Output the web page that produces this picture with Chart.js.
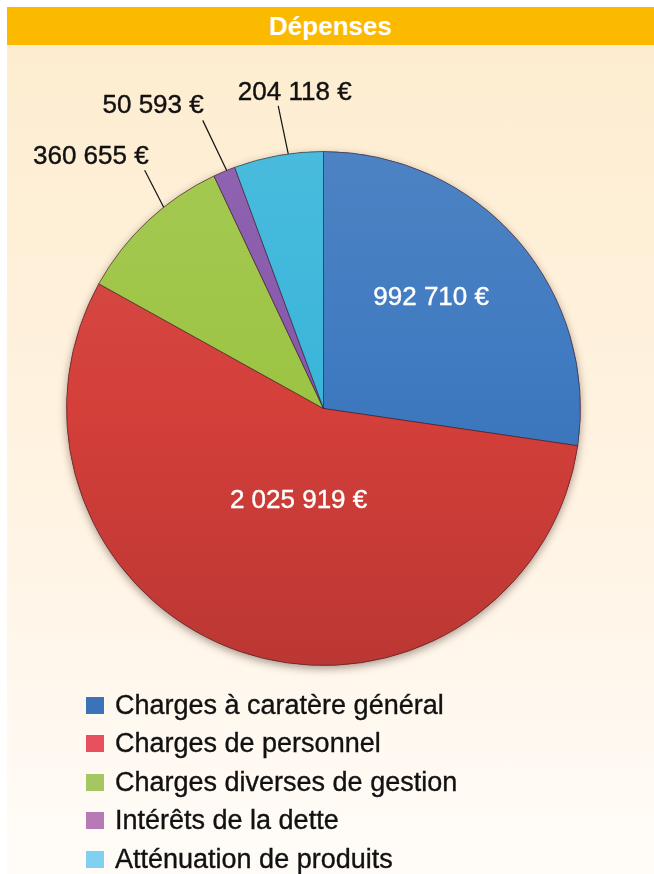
<!DOCTYPE html>
<html>
<head>
<meta charset="utf-8">
<script src="https://cdn.jsdelivr.net/npm/chart.js@4"></script>
<style>
  body { margin: 0; background: #fff; font-family: "Liberation Sans", Arial, sans-serif; }
  #wrap { position: absolute; left: 7px; top: 7px; width: 647px; height: 867px;
          background: linear-gradient(#fdecce, #fff3e2 55%, #fffcf8); }
  #title { height: 38px; background: #fbb900; color: #fff; font-weight: bold;
           font-size: 26px; text-align: center; line-height: 38px; }
  #box { position: absolute; left: 0; top: 0; width: 654px; height: 874px; }
  #legend { position: absolute; left: 86px; top: 686px; }
  .item { height: 38.5px; display: flex; align-items: center; font-size: 27px; color: #111;
          -webkit-text-stroke: 0.35px #111; }
  .sw { width: 18px; height: 17px; margin-right: 11px; }
</style>
</head>
<body>
<div id="wrap"><div id="title">Dépenses</div></div>
<div id="box"><canvas id="pie"></canvas></div>
<div id="legend"></div>
<script>
const categories = ['Charges à caratère général', 'Charges de personnel', 'Charges diverses de gestion', 'Intérêts de la dette', 'Atténuation de produits'];
const amounts = [992710, 2025919, 360655, 50593, 204118];
const sliceColors = ['#3d78bf', '#d43f3a', '#9cc443', '#8656aa', '#39b5da'];
const legendColors = ['#3c72b8', '#e9505f', '#a4c761', '#b87ab6', '#80d0f2'];

// where each value label sits: t = position across the slice, r = fraction of radius
const labelStyle = [
  { inside: true, t: 0.45, r: 0.6 },
  { inside: true, t: 0.482, r: 0.373 },
  { t: 0.63, angle: 332.8, len: 41.6, align: 'right', dx: 4, dy: -6 },
  { t: 0.62, angle: 334.4, len: 55.5, align: 'right', dx: 1, dy: -7 },
  { t: 0.61, angle: 348.2, len: 49, align: 'center', dx: 16.5, dy: -6 }
];

const euro = n => n.toString().replace(/\B(?=(\d{3})+(?!\d))/g, ' ') + ' €';

function shade(hex, amt) {
  const n = parseInt(hex.slice(1), 16);
  const f = c => Math.max(0, Math.min(255, Math.round(amt > 0 ? c + (255 - c) * amt : c * (1 + amt))));
  return `rgb(${f(n >> 16)},${f((n >> 8) & 255)},${f(n & 255)})`;
}

const pieShadow = {
  id: 'pieShadow',
  beforeDatasetsDraw(chart) {
    const arc = chart.getDatasetMeta(0).data[0];
    if (!arc) return;
    const ctx = chart.ctx;
    ctx.save();
    ctx.shadowColor = 'rgba(60,30,20,0.45)';
    ctx.shadowBlur = 8;
    ctx.shadowOffsetY = 3;
    ctx.fillStyle = '#b5362f';
    ctx.beginPath();
    ctx.arc(arc.x, arc.y, arc.outerRadius, 0, Math.PI * 2);
    ctx.fill();
    ctx.restore();
  }
};

const valueLabels = {
  id: 'valueLabels',
  afterDatasetsDraw(chart) {
    const ctx = chart.ctx;
    ctx.save();
    ctx.font = '26px "Liberation Sans", Arial, sans-serif';
    ctx.lineWidth = 0.4;
    chart.getDatasetMeta(0).data.forEach((arc, i) => {
      const { x, y, startAngle, endAngle, outerRadius } = arc.getProps(['x', 'y', 'startAngle', 'endAngle', 'outerRadius'], true);
      const s = labelStyle[i];
      const text = euro(amounts[i]);
      const a = startAngle + (endAngle - startAngle) * s.t;
      if (s.inside) {
        const tx = x + Math.cos(a) * outerRadius * s.r, ty = y + Math.sin(a) * outerRadius * s.r;
        ctx.fillStyle = ctx.strokeStyle = '#fff';
        ctx.textAlign = 'center';
        ctx.textBaseline = 'middle';
        ctx.fillText(text, tx, ty);
        ctx.strokeText(text, tx, ty);
        return;
      }
      const x0 = x + Math.cos(a) * outerRadius, y0 = y + Math.sin(a) * outerRadius;
      const la = (s.angle - 90) * Math.PI / 180;
      const x1 = x0 + Math.cos(la) * s.len, y1 = y0 + Math.sin(la) * s.len;
      ctx.strokeStyle = ctx.fillStyle = '#111';
      ctx.lineWidth = 1.2;
      ctx.beginPath();
      ctx.moveTo(x0, y0);
      ctx.lineTo(x1, y1);
      ctx.stroke();
      ctx.lineWidth = 0.4;
      ctx.textAlign = s.align;
      ctx.textBaseline = 'alphabetic';
      ctx.fillText(text, x1 + s.dx, y1 + s.dy);
      ctx.strokeText(text, x1 + s.dx, y1 + s.dy);
    });
    ctx.restore();
  }
};

new Chart(document.getElementById('pie'), {
  type: 'pie',
  data: {
    labels: categories,
    datasets: [{
      data: amounts,
      backgroundColor(ctx) {
        const area = ctx.chart.chartArea;
        const base = sliceColors[ctx.dataIndex];
        if (!area) return base;
        const g = ctx.chart.ctx.createLinearGradient(0, area.top, 0, area.bottom);
        g.addColorStop(0, shade(base, 0.08));
        g.addColorStop(0.5, base);
        g.addColorStop(1, shade(base, -0.12));
        return g;
      },
      borderColor: 'rgba(50,30,40,0.55)',
      borderWidth: 1
    }]
  },
  options: {
    responsive: true,
    maintainAspectRatio: false,
    animation: false,
    layout: { padding: { left: 66, right: 73, top: 151, bottom: 208 } },
    plugins: { legend: { display: false }, tooltip: { enabled: false } }
  },
  plugins: [pieShadow, valueLabels]
});

document.getElementById('legend').innerHTML = categories.map((c, i) =>
  `<div class="item"><span class="sw" style="background:${legendColors[i]}"></span>${c}</div>`).join('');
</script>
</body>
</html>
